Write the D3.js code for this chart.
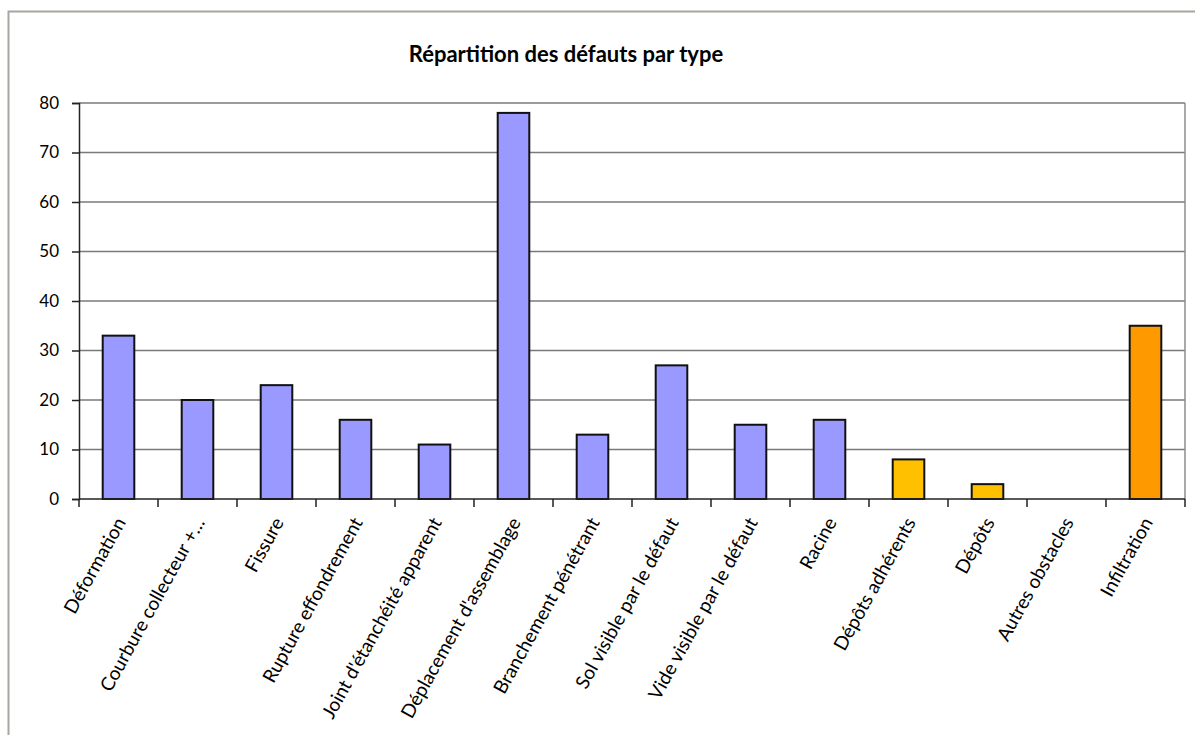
<!DOCTYPE html>
<html>
<head>
<meta charset="utf-8">
<script src="https://cdn.jsdelivr.net/npm/d3@7"></script>
<style>
  body { margin: 0; background: #fff; }
  text { font-family: Lato, "Open Sans", sans-serif; fill: #000; }
</style>
</head>
<body>
<script>
// donnees
var categories = ["Déformation", "Courbure collecteur +…", "Fissure", "Rupture effondrement",
  "Joint d'étanchéité apparent", "Déplacement d'assemblage", "Branchement pénétrant",
  "Sol visible par le défaut", "Vide visible par le défaut", "Racine", "Dépôts adhérents",
  "Dépôts", "Autres obstacles", "Infiltration"];
var values = [33, 20, 23, 16, 11, 78, 13, 27, 15, 16, 8, 3, 0, 35];
var groups = ["a", "a", "a", "a", "a", "a", "a", "a", "a", "a", "b", "b", "b", "c"];
var yTicks = [0, 10, 20, 30, 40, 50, 60, 70, 80];
var title = "Répartition des défauts par type";

var width = 1195,
    height = 735;

var svg = d3.select("body").append("svg")
    .attr("width", width)
    .attr("height", height);

// cadre du graphique
svg.append("rect")
    .attr("x", 8.5).attr("y", 11.5)
    .attr("width", 1200).attr("height", 800)
    .attr("fill", "#fff")
    .attr("stroke", "#a4a8a0")
    .attr("stroke-width", 2);

var plot = {left: 79, right: 1185, top: 103, bottom: 499};

var x = d3.scaleBand()
    .domain(categories)
    .range([plot.left, plot.right])
    .paddingInner(0.6)
    .paddingOuter(0.3);

var y = d3.scaleLinear()
    .domain([0, 80])
    .range([plot.bottom, plot.top]);

var color = d3.scaleOrdinal()
    .domain(["a", "b", "c"])
    .range(["#9999ff", "#ffc000", "#ff9900"]);

// quadrillage
svg.append("g")
    .selectAll("line")
    .data(yTicks.slice(1))
    .enter().append("line")
    .attr("x1", plot.left).attr("x2", plot.right)
    .attr("y1", function(d){ return y(d); })
    .attr("y2", function(d){ return y(d); })
    .attr("stroke", "#7a7a7a")
    .attr("stroke-width", 1.5);

svg.append("line")
    .attr("x1", plot.right).attr("x2", plot.right)
    .attr("y1", plot.top).attr("y2", plot.bottom)
    .attr("stroke", "#8c8c8c")
    .attr("stroke-width", 1.5);

// barres (pas de barre pour les valeurs nulles)
var idx = d3.range(values.length).filter(function(i){ return values[i] > 0; });
svg.append("g")
    .selectAll("rect")
    .data(idx)
    .enter().append("rect")
    .attr("x", function(i){ return x(categories[i]); })
    .attr("y", function(i){ return y(values[i]); })
    .attr("width", x.bandwidth())
    .attr("height", function(i){ return y(0) - y(values[i]); })
    .attr("fill", function(i){ return color(groups[i]); })
    .attr("stroke", "#111")
    .attr("stroke-width", 2);

// axe Y
var yAxis = svg.append("g")
    .attr("transform", "translate(" + plot.left + ",0)")
    .call(d3.axisLeft(y).tickValues(yTicks).tickSize(7).tickPadding(13));
yAxis.selectAll("text").style("font-size", "17px").style("font-family", "Lato, sans-serif");
yAxis.selectAll("line, path").attr("stroke", "#222").attr("stroke-width", 1.5);

// axe X : traits aux limites des categories
var step = x.step();
var bounds = d3.range(categories.length + 1).map(function(k){ return plot.left + k * step; });
svg.append("line")
    .attr("x1", plot.left).attr("x2", plot.right)
    .attr("y1", plot.bottom).attr("y2", plot.bottom)
    .attr("stroke", "#222").attr("stroke-width", 1.5);
svg.append("g")
    .selectAll("line")
    .data(bounds)
    .enter().append("line")
    .attr("x1", function(d){ return d; }).attr("x2", function(d){ return d; })
    .attr("y1", plot.bottom).attr("y2", plot.bottom + 8)
    .attr("stroke", "#222").attr("stroke-width", 1.5);

// etiquettes
svg.append("g")
    .selectAll("text")
    .data(categories)
    .enter().append("text")
    .attr("transform", function(d){
        return "translate(" + (x(d) + x.bandwidth() / 2 + 2) + "," + (plot.bottom + 20) + ") rotate(-61)";
    })
    .attr("text-anchor", "end")
    .attr("dy", "0.35em")
    .style("font-size", "19px")
    .text(function(d){ return d; });

// titre
svg.append("text")
    .attr("x", 566)
    .attr("y", 62)
    .attr("text-anchor", "middle")
    .style("font-size", "22px")
    .style("font-weight", "bold")
    .text(title);
</script>
</body>
</html>
